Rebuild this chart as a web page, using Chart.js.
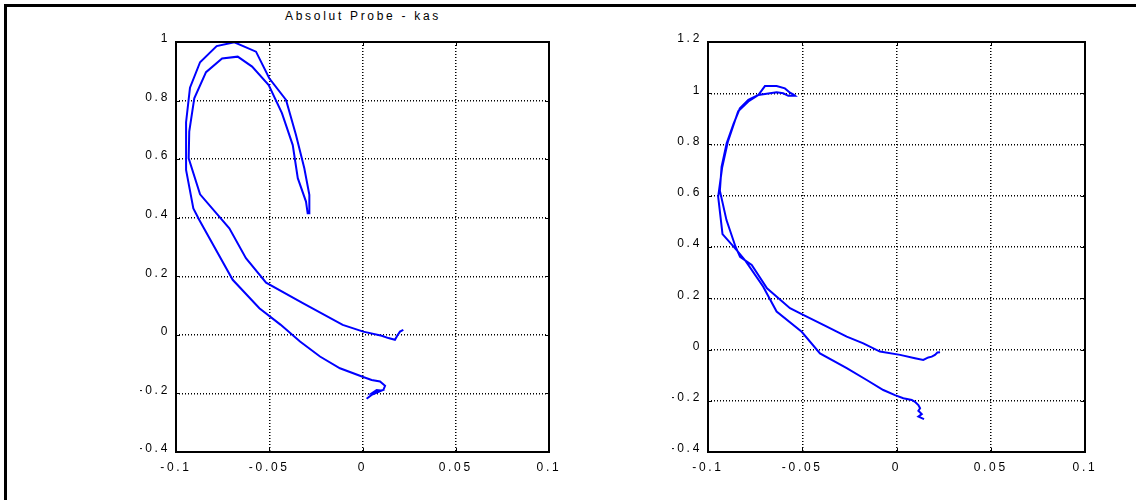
<!DOCTYPE html>
<html>
<head>
<meta charset="utf-8">
<script src="https://cdn.jsdelivr.net/npm/chart.js@4"></script>
<style>
  body { margin: 0; background: #fff; width: 1136px; height: 500px; overflow: hidden; position: relative; font-family: Arial, "Liberation Sans", sans-serif; }
  .frame { position: absolute; left: 4px; top: 4px; right: 0; bottom: 0; border-top: 3px solid #000; border-left: 3px solid #000; }
  .title { position: absolute; left: 213px; width: 300px; top: 9px; text-align: center; font-size: 12px; letter-spacing: 2.7px; color: #000; }
  canvas { position: absolute; top: 0; }
</style>
</head>
<body>
<div class="frame"></div>
<div class="title">Absolut Probe - kas</div>
<canvas id="left" width="445" height="490" style="left:140px"></canvas>
<canvas id="right" width="449" height="490" style="left:672px"></canvas>
<script>
// axis limits
const xRange = [-0.1, 0.1];
const leftYRange = [-0.4, 1];
const rightYRange = [-0.4, 1.2];

// left trace, kas probe
const leftX = [0.0219, 0.0201, 0.0187, 0.0174, 0.0139, 0.0103, 0.0004, -0.0106, -0.032, -0.0517,
  -0.0625, -0.0714, -0.0871, -0.0932, -0.0929, -0.0902, -0.0839, -0.0753, -0.0669, -0.0592,
  -0.0503, -0.0432, -0.0374, -0.0347, -0.0303, -0.0294, -0.0285, -0.0285, -0.0312, -0.0357,
  -0.041, -0.05, -0.0571, -0.0687, -0.0782, -0.0871, -0.0925, -0.0946, -0.0946, -0.0907,
  -0.0875, -0.0696, -0.0553, -0.044, -0.0335, -0.0228, -0.0121, 0.0004, 0.0049, 0.0094,
  0.0121, 0.0112, 0.0076, 0.0055, 0.0076, 0.0103, 0.0049, 0.0022];
const leftY = [0.017, 0.011, -0.002, -0.017, -0.011, -0.003, 0.011, 0.034, 0.108, 0.178,
  0.262, 0.364, 0.48, 0.603, 0.694, 0.808, 0.897, 0.944, 0.95, 0.916,
  0.853, 0.757, 0.648, 0.535, 0.455, 0.415, 0.415, 0.478, 0.569, 0.683,
  0.802, 0.876, 0.967, 0.999, 0.986, 0.931, 0.844, 0.726, 0.563, 0.432,
  0.392, 0.188, 0.091, 0.035, -0.023, -0.074, -0.114, -0.144, -0.154, -0.159,
  -0.174, -0.188, -0.193, -0.197, -0.188, -0.19, -0.205, -0.218];

// right trace
const rightX = [0.0231, 0.0217, 0.0204, 0.0187, 0.0169, 0.0142, 0.0098, 0.0019, -0.0088, -0.0176,
  -0.0264, -0.0388, -0.0495, -0.0565, -0.0687, -0.0768, -0.083, -0.0854, -0.0902, -0.0937,
  -0.0928, -0.0901, -0.0865, -0.0831, -0.0786, -0.0733, -0.0636, -0.0601, -0.0574, -0.0538,
  -0.0548, -0.0565, -0.0592, -0.0636, -0.0698, -0.0733, -0.0786, -0.084, -0.0895, -0.0925,
  -0.0946, -0.0923, -0.0848, -0.08, -0.0707, -0.0636, -0.0503, -0.0406, -0.0264, -0.0158,
  -0.007, -0.0008, 0.0036, 0.0081, 0.0098, 0.0116, 0.0125, 0.0116, 0.0134, 0.0116, 0.0146];
const rightY = [-0.011, -0.012, -0.021, -0.028, -0.031, -0.041, -0.034, -0.021, -0.008, 0.024,
  0.05, 0.096, 0.135, 0.161, 0.239, 0.33, 0.362, 0.401, 0.505, 0.62,
  0.713, 0.805, 0.88, 0.941, 0.974, 0.993, 1.004, 1.0, 0.99, 0.99,
  0.996, 1.002, 1.019, 1.028, 1.028, 0.993, 0.968, 0.93, 0.81, 0.71,
  0.596, 0.45, 0.388, 0.345, 0.245, 0.148, 0.069, -0.015, -0.073, -0.119,
  -0.158, -0.178, -0.19, -0.197, -0.204, -0.217, -0.229, -0.239, -0.252, -0.262, -0.272];

const tickFont = { family: 'Arial, "Liberation Sans", sans-serif', size: 12 };
const spacing = '2.7px';

function points(xs, ys) {
  return xs.map((x, i) => ({ x: x, y: ys[i] }));
}

function fmt(v) {
  return String(Math.round(v * 100) / 100);
}

// black box round the axes with short ticks pointing inwards
const boxTicks = {
  id: 'boxTicks',
  beforeUpdate(chart) { chart.ctx.letterSpacing = spacing; },
  beforeDraw(chart) { chart.ctx.letterSpacing = spacing; },
  afterDraw(chart) {
    const ctx = chart.ctx;
    const a = chart.chartArea;
    const sx = chart.scales.x;
    const sy = chart.scales.y;
    ctx.save();
    ctx.strokeStyle = '#000';
    ctx.lineWidth = 1;
    ctx.beginPath();
    sx.ticks.forEach(t => {
      const p = Math.round(sx.getPixelForValue(t.value)) + 0.5;
      ctx.moveTo(p, a.top);
      ctx.lineTo(p, a.top + 4);
      ctx.moveTo(p, a.bottom);
      ctx.lineTo(p, a.bottom - 4);
    });
    sy.ticks.forEach(t => {
      const p = Math.round(sy.getPixelForValue(t.value)) + 0.5;
      ctx.moveTo(a.left, p);
      ctx.lineTo(a.left + 4, p);
      ctx.moveTo(a.right, p);
      ctx.lineTo(a.right - 4, p);
    });
    ctx.stroke();
    ctx.lineWidth = 2;
    ctx.strokeRect(a.left, a.top, a.right - a.left, a.bottom - a.top);
    ctx.restore();
  }
};

function makePlot(id, xs, ys, yRange) {
  return new Chart(document.getElementById(id), {
    type: 'scatter',
    data: {
      datasets: [{
        data: points(xs, ys),
        showLine: true,
        borderColor: '#0000ff',
        borderWidth: 2,
        pointRadius: 0,
        tension: 0,
        fill: false
      }]
    },
    options: {
      responsive: false,
      animation: false,
      layout: { padding: { top: 42, right: 36, left: 0, bottom: 0 } },
      plugins: {
        legend: { display: false },
        tooltip: { enabled: false }
      },
      scales: {
        x: {
          type: 'linear',
          min: xRange[0],
          max: xRange[1],
          ticks: { stepSize: 0.05, color: '#000', font: tickFont, padding: 8, callback: fmt },
          grid: { color: '#000', lineWidth: 1.5, drawTicks: false },
          border: { display: false, dash: [1, 2] },
          afterFit: s => { s.height = 38; }
        },
        y: {
          type: 'linear',
          min: yRange[0],
          max: yRange[1],
          ticks: { stepSize: 0.2, color: '#000', font: tickFont, padding: 6, labelOffset: -3, callback: fmt },
          grid: { color: '#000', lineWidth: 1.5, drawTicks: false },
          border: { display: false, dash: [1, 2] },
          afterFit: s => { s.width = 36; }
        }
      }
    },
    plugins: [boxTicks]
  });
}

makePlot('left', leftX, leftY, leftYRange);
makePlot('right', rightX, rightY, rightYRange);
</script>
</body>
</html>
